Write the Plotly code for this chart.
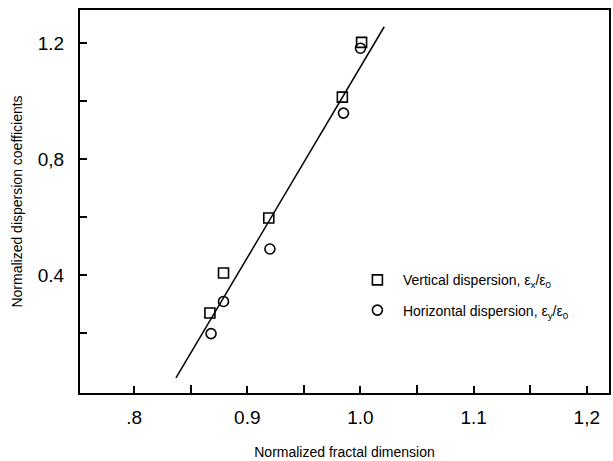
import plotly.graph_objects as go

# Data
vert_x = [0.867, 0.879, 0.919, 0.984, 1.001]
vert_y = [0.269, 0.407, 0.597, 1.014, 1.203]
horiz_x = [0.868, 0.879, 0.920, 0.985, 1.000]
horiz_y = [0.198, 0.309, 0.490, 0.959, 1.183]
fit_x = [0.837, 1.021]
fit_y = [0.045, 1.257]

x_tickvals = [0.80, 0.90, 1.00, 1.10, 1.20]
x_ticktext = [".8", "0.9", "1.0", "1.1", "1,2"]
x_minorvals = [0.85, 0.95, 1.05, 1.15]
y_tickvals = [0.4, 0.8, 1.2]
y_ticktext = ["0.4", "0,8", "1.2"]
y_minorvals = [0.2, 0.6, 1.0]

FONT = "Liberation Sans, Arial, sans-serif"

fig = go.Figure()
fig.add_trace(go.Scatter(
    x=fit_x, y=fit_y, mode="lines", line=dict(color="black", width=1.5),
    showlegend=False, hoverinfo="skip"))
fig.add_trace(go.Scatter(
    x=vert_x, y=vert_y, mode="markers",
    name="Vertical dispersion, ε<sub>x</sub>/ε<sub>0</sub>",
    legendgroup="v",
    marker=dict(symbol="square-open", size=10, color="black", line=dict(width=1.6))))
fig.add_trace(go.Scatter(
    x=horiz_x, y=horiz_y, mode="markers",
    name="Horizontal dispersion, ε<sub>y</sub>/ε<sub>0</sub>",
    legendgroup="h",
    marker=dict(symbol="circle-open", size=10, color="black", line=dict(width=1.6))))

fig.update_layout(
    width=613, height=461,
    margin=dict(l=80, r=2, t=10, b=68),
    paper_bgcolor="white", plot_bgcolor="white",
    font=dict(family=FONT, color="black"),
    legend=dict(
        x=0.514, y=0.336, xanchor="left", yanchor="top",
        bgcolor="rgba(0,0,0,0)", borderwidth=0,
        font=dict(size=14, family=FONT, color="black"),
        traceorder="grouped", tracegroupgap=9,
        itemwidth=41),
    xaxis=dict(
        range=[0.7522, 1.2196],
        tickmode="array", tickvals=x_tickvals, ticktext=x_ticktext,
        ticks="inside", ticklen=7, tickwidth=1.5, tickcolor="black",
        minor=dict(tickmode="array", tickvals=x_minorvals, ticks="inside",
                   ticklen=8, tickwidth=1.5, tickcolor="black", showgrid=False),
        showline=True, linecolor="black", linewidth=2, mirror=True,
        showgrid=False, zeroline=False,
        tickfont=dict(size=19, family=FONT),
        ticklabelstandoff=6,
        title=dict(text="Normalized fractal dimension", font=dict(size=14, family=FONT), standoff=20)),
    yaxis=dict(
        range=[-0.0069, 1.3148],
        tickmode="array", tickvals=y_tickvals, ticktext=y_ticktext,
        ticks="inside", ticklen=7, tickwidth=1.5, tickcolor="black",
        minor=dict(tickmode="array", tickvals=y_minorvals, ticks="inside",
                   ticklen=7, tickwidth=1.5, tickcolor="black", showgrid=False),
        showline=True, linecolor="black", linewidth=2, mirror=True,
        showgrid=False, zeroline=False,
        tickfont=dict(size=19, family=FONT),
        ticklabelstandoff=10,
        title=dict(text="Normalized dispersion coefficients", font=dict(size=14, family=FONT), standoff=12)),
)

fig.write_html("out.html")
